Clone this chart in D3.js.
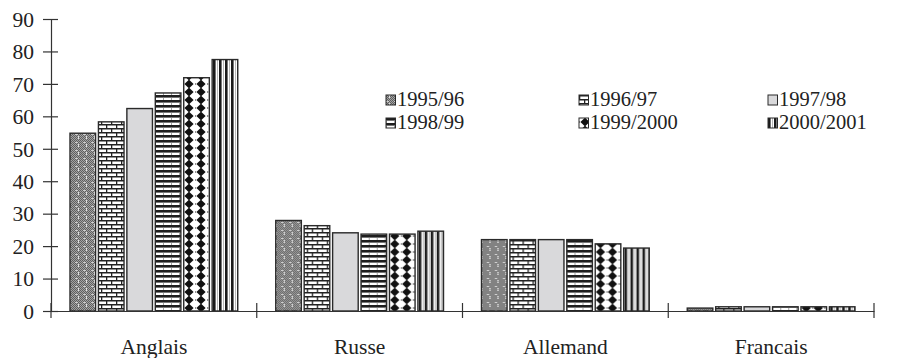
<!DOCTYPE html>
<html>
<head>
<meta charset="utf-8">
<script src="https://cdn.jsdelivr.net/npm/d3@7"></script>
<style>
  html, body { margin: 0; padding: 0; background: #fff; }
  svg { display: block; }
  text { font-family: "Liberation Serif", "Times New Roman", serif; fill: #222; }
</style>
</head>
<body>
<svg id="chart" width="902" height="358"></svg>
<script>
// Languages studied, share of pupils (%) per school year
const categories = ["Anglais", "Russe", "Allemand", "Francais"];
const years = ["1995/96", "1996/97", "1997/98", "1998/99", "1999/2000", "2000/2001"];
const anglais  = [54.8, 58.3, 62.4, 67.2, 71.9, 77.5];
const russe    = [27.9, 26.3, 24.1, 23.7, 23.7, 24.6];
const allemand = [22.0, 22.0, 22.0, 22.0, 20.7, 19.4];
const francais = [0.9, 1.3, 1.3, 1.3, 1.3, 1.3];
const yTicks = [0, 10, 20, 30, 40, 50, 60, 70, 80, 90];

const rows = [anglais, russe, allemand, francais];

const svg = d3.select("#chart");
const defs = svg.append("defs");

// ---- fill patterns, one per school year ----
function pattern(id, w, h) {
  return defs.append("pattern").attr("id", id)
    .attr("patternUnits", "userSpaceOnUse").attr("width", w).attr("height", h);
}
// 1995/96 : fine grey stipple with light grid
{
  const p = pattern("p0", 8, 8);
  p.append("rect").attr("width", 8).attr("height", 8).attr("fill", "#5f5f5f");
  for (let i = 0; i < 8; i++) for (let j = 0; j < 8; j++) {
    if ((i + j) % 2 === 0) p.append("rect").attr("x", i).attr("y", j).attr("width", 1).attr("height", 1).attr("fill", "#a4a4a4");
  }
  p.append("rect").attr("x", 3).attr("y", 0).attr("width", 1).attr("height", 3).attr("fill", "#e0e0e0");
  p.append("rect").attr("x", 0).attr("y", 6).attr("width", 3).attr("height", 1).attr("fill", "#cfcfcf");
}
// 1996/97 : brick
{
  const p = pattern("p1", 10, 8);
  p.append("rect").attr("width", 10).attr("height", 8).attr("fill", "#fff");
  p.append("rect").attr("x", 0).attr("y", 0).attr("width", 10).attr("height", 1.5).attr("fill", "#222");
  p.append("rect").attr("x", 0).attr("y", 4).attr("width", 10).attr("height", 1.5).attr("fill", "#222");
  p.append("rect").attr("x", 0).attr("y", 0).attr("width", 1.3).attr("height", 4).attr("fill", "#222");
  p.append("rect").attr("x", 5).attr("y", 4).attr("width", 1.3).attr("height", 4).attr("fill", "#222");
}
// 1997/98 : plain light grey
{
  const p = pattern("p2", 4, 4);
  p.append("rect").attr("width", 4).attr("height", 4).attr("fill", "#d9d9db");
}
// 1998/99 : heavy horizontal stripes
{
  const p = pattern("p3", 8, 5);
  p.append("rect").attr("width", 8).attr("height", 5).attr("fill", "#fff");
  p.append("rect").attr("x", 0).attr("y", 0).attr("width", 8).attr("height", 2.6).attr("fill", "#1e1e1e");
  p.append("rect").attr("x", 0).attr("y", 2.6).attr("width", 0.8).attr("height", 2.4).attr("fill", "#888");
}
// 1999/2000 : black diamonds
{
  const p = pattern("p4", 12, 8);
  p.append("rect").attr("width", 12).attr("height", 8).attr("fill", "#fff");
  p.append("path").attr("d", "M6,-0.4 L10.6,4 L6,8.4 L1.4,4 Z").attr("fill", "#111");
  p.append("rect").attr("x", 0).attr("y", 3).attr("width", 0.8).attr("height", 2).attr("fill", "#777");
}
// 2000/2001 : vertical stripes
{
  const p = pattern("p5", 6, 6);
  p.append("rect").attr("width", 6).attr("height", 6).attr("fill", "#fff");
  p.append("rect").attr("x", 0).attr("y", 0).attr("width", 2.6).attr("height", 6).attr("fill", "#1a1a1a");
  p.append("rect").attr("x", 4).attr("y", 0).attr("width", 0.7).attr("height", 6).attr("fill", "#999");
}
const fillFor = i => `url(#p${i})`;

// ---- scales ----
const xLeft = 51, xRight = 874, yBottom = 311, yTop = 19;
const x0 = d3.scaleBand().domain(categories).range([xLeft, xRight]).padding(0);
const groupPad = 19;
const x1 = d3.scaleBand().domain(years)
  .range([groupPad, x0.bandwidth() - groupPad]).paddingInner(0.1);
const y = d3.scaleLinear().domain([0, 90]).range([yBottom, yTop]);

// ---- bars ----
const groups = svg.append("g").selectAll("g")
  .data(categories.map((c, i) => ({ cat: c, vals: rows[i] })))
  .join("g")
  .attr("transform", d => `translate(${x0(d.cat)},0)`);

groups.selectAll("rect")
  .data(d => d.vals.map((v, i) => ({ year: years[i], i, v })))
  .join("rect")
  .attr("x", d => x1(d.year))
  .attr("y", d => y(d.v))
  .attr("width", x1.bandwidth())
  .attr("height", d => y(0) - y(d.v))
  .attr("fill", d => fillFor(d.i))
  .attr("stroke", "#2a2a2a")
  .attr("stroke-width", 1.4);

// ---- y axis ----
const yAxis = svg.append("g").attr("transform", `translate(${xLeft},0)`)
  .call(d3.axisLeft(y).tickValues(yTicks).tickSize(8).tickPadding(0).tickFormat(d3.format("d")));
yAxis.select(".domain").attr("stroke", "#333").attr("stroke-width", 1.2);
yAxis.selectAll(".tick line").attr("x1", 7).attr("stroke", "#333").attr("stroke-width", 1.2);
yAxis.selectAll(".tick text")
  .attr("x", -17).attr("dy", "0.34em")
  .style("font-size", "21.5px").style("font-family", "'Liberation Serif', 'Times New Roman', serif")
  .attr("fill", "#222");

// ---- x axis ----
const xAxis = svg.append("g").attr("transform", `translate(0,${yBottom})`)
  .call(d3.axisBottom(x0).tickSize(0).tickPadding(0));
xAxis.select(".domain").attr("stroke", "#333").attr("stroke-width", 1.2);
xAxis.selectAll(".tick text")
  .attr("y", 43).attr("dy", 0)
  .style("font-size", "21.5px").style("font-family", "'Liberation Serif', 'Times New Roman', serif")
  .attr("fill", "#222");
const bounds = categories.map(c => x0(c)).concat([x0(categories[categories.length - 1]) + x0.bandwidth()]);
xAxis.selectAll(".sep").data(bounds).join("line").attr("class", "sep")
  .attr("x1", d => d).attr("x2", d => d).attr("y1", -8).attr("y2", 7)
  .attr("stroke", "#333").attr("stroke-width", 1.2);

// ---- legend ----
const legCols = [386, 579, 768];
const legRows = [95, 118];
const legend = svg.append("g").selectAll("g")
  .data(years)
  .join("g")
  .attr("transform", (d, i) => `translate(${legCols[i % 3]},${legRows[Math.floor(i / 3)]})`);
legend.append("rect")
  .attr("width", 9.5).attr("height", 10)
  .attr("fill", (d, i) => fillFor(i))
  .attr("stroke", "#2a2a2a").attr("stroke-width", 1);
legend.append("text")
  .attr("x", 11).attr("y", 11)
  .style("font-size", "20.5px")
  .text(d => d);
</script>
</body>
</html>
